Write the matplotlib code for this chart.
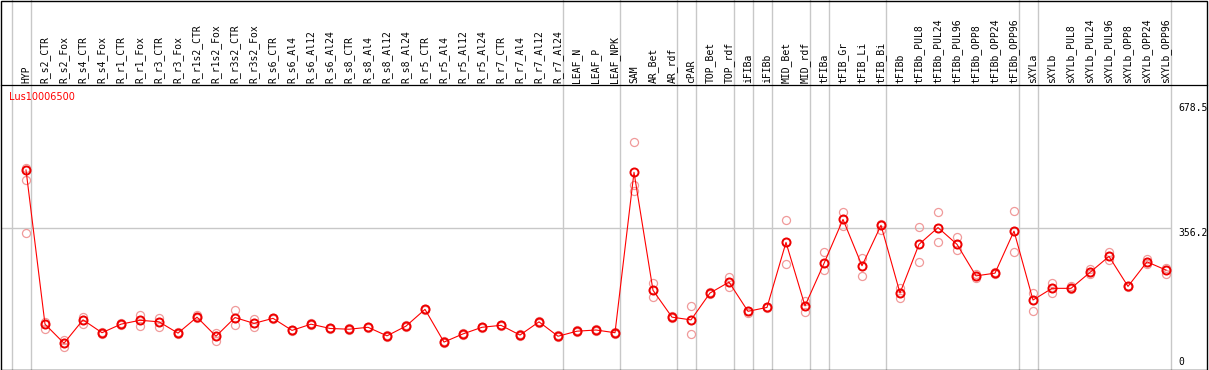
import numpy as np
import matplotlib
matplotlib.use("Agg")
import matplotlib.pyplot as plt
from matplotlib.patches import Rectangle


gene = "Lus10006500"

samples = ["HYP", "R_s2_CTR", "R_s2_Fox", "R_s4_CTR", "R_s4_Fox", "R_r1_CTR", "R_r1_Fox",
           "R_r3_CTR", "R_r3_Fox", "R_r1s2_CTR", "R_r1s2_Fox", "R_r3s2_CTR", "R_r3s2_Fox",
           "R_s6_CTR", "R_s6_Al4", "R_s6_Al12", "R_s6_Al24", "R_s8_CTR", "R_s8_Al4",
           "R_s8_Al12", "R_s8_Al24", "R_r5_CTR", "R_r5_Al4", "R_r5_Al12", "R_r5_Al24",
           "R_r7_CTR", "R_r7_Al4", "R_r7_Al12", "R_r7_Al24", "LEAF_N", "LEAF_P", "LEAF_NPK",
           "SAM", "AR_Bet", "AR_rdf", "cPAR", "TOP_Bet", "TOP_rdf", "iFIBa", "iFIBb",
           "MID_Bet", "MID_rdf", "tFIBa", "tFIB_Gr", "tFIB_Li", "tFIB_Bi", "tFIBb",
           "tFIBb_PUL8", "tFIBb_PUL24", "tFIBb_PUL96", "tFIBb_OPP8", "tFIBb_OPP24", "tFIBb_OPP96",
           "sXYLa", "sXYLb", "sXYLb_PUL8", "sXYLb_PUL24", "sXYLb_PUL96", "sXYLb_OPP8",
           "sXYLb_OPP24", "sXYLb_OPP96"]

mean_expr = [506, 110, 61, 121, 88, 110, 120, 116, 87, 128, 79, 127, 112, 125, 94, 110,
             99, 97, 102, 80, 105, 148, 64, 85, 102, 107, 82, 116, 79, 92, 95, 88,
             500, 197, 128, 121, 190, 218, 143, 153, 320, 157, 266, 379, 260, 364, 190,
             315, 358, 315, 234, 241, 349, 172, 202, 202, 243, 284, 207, 270, 249]

rep_a = [510, 116, 69, 128, 90, 112, 134, 126, 89, 133, 88, 146, 123, 127, 96, 112,
         101, 99, 104, 82, 107, 150, 66, 87, 104, 109, 84, 118, 81, 94, 97, 90,
         577, 216, 130, 157, 192, 232, 145, 155, 378, 170, 295, 397, 279, 366, 204,
         360, 397, 333, 239, 243, 401, 189, 215, 209, 252, 295, 209, 278, 255]
rep_b = [479, 110, 61, 121, 88, 110, 120, 116, 87, 128, 79, 127, 112, 125, 94, 110,
         99, 97, 102, 80, 105, 148, 64, 85, 102, 107, 82, 116, 79, 92, 95, 88,
         467, 197, 128, 121, 190, 218, 143, 153, 320, 157, 266, 379, 260, 364, 190,
         315, 358, 315, 234, 241, 349, 172, 202, 202, 243, 284, 207, 270, 249]
rep_c = [343, 98, 51, 110, 86, 108, 105, 104, 85, 125, 68, 108, 104, 123, 92, 108,
         97, 95, 100, 78, 103, 146, 62, 83, 100, 105, 80, 114, 77, 90, 93, 86,
         453, 179, 126, 84, 188, 206, 139, 151, 264, 140, 249, 362, 234, 352, 176,
         269, 320, 300, 229, 239, 295, 143, 191, 200, 240, 275, 205, 264, 239]

# last sample index of each group (plus the leading edge)
group_ends = [-1, 0, 28, 31, 34, 35, 37, 38, 39, 41, 42, 45, 52, 53, 60]

y_labels = [678.5, 356.2, 0]


def expression_plot():
    W, H = 1209, 370
    fig = plt.figure(figsize=(W / 100, H / 100), dpi=100)

    # plot area in pixels: x 1..1207, y 85..369
    ax = fig.add_axes([1 / W, 1 / H, 1206 / W, 284 / H])
    x = np.arange(len(samples))
    step = 19.0
    x0 = -25 / step
    ax.set_xlim(x0, x0 + 1206 / step)
    px = 0.3894
    ax.set_ylim(-2 / px, 282 / px)
    ax.set_xticks([])
    ax.set_yticks([])
    for s in ["left", "right", "bottom"]:
        ax.spines[s].set_visible(False)
    ax.spines["top"].set_linewidth(0.9)

    off = 4.5 / step
    top = 369 / 284
    for g in group_ends:
        ax.axvline(g + off, 0, top, color="#c8c8c8", lw=1.0, clip_on=False, zorder=0)
    ax.hlines(y_labels[1], x0, group_ends[-1] + off, color="#c8c8c8", lw=1.0, zorder=0)

    for rep in [rep_a, rep_b, rep_c]:
        ax.plot(x, rep, linestyle="none", marker="o", ms=5.8, mfc="none",
                mec="#f09a9a", mew=0.9, zorder=2)
    ax.plot(x, mean_expr, color="red", lw=0.8, zorder=3)
    ax.plot(x, mean_expr, linestyle="none", marker="o", ms=5.8, mfc="none",
            mec="#ee0000", mew=1.4, zorder=4)

    trans = ax.get_xaxis_transform()
    for i, name in enumerate(samples):
        ax.text(i, 1 + 2 / 284, name, transform=trans, rotation=90, ha="center",
                va="bottom", fontsize=7, family="DejaVu Sans Mono")

    ax.text(8.3 / 1206, 1 - 12 / 284, gene, transform=ax.transAxes, color="red",
            fontsize=7, va="center", ha="left")

    ytrans = ax.get_yaxis_transform()
    xl = 1177 / 1206
    ax.text(xl, y_labels[0], "678.5", transform=ytrans, va="top", ha="left",
            fontsize=7, family="DejaVu Sans Mono", clip_on=True)
    ax.text(xl, y_labels[1], "356.2", transform=ytrans, va="top", ha="left",
            fontsize=7, family="DejaVu Sans Mono", clip_on=True)
    ax.text(xl, y_labels[2], "0", transform=ytrans, va="bottom", ha="left",
            fontsize=7, family="DejaVu Sans Mono")

    fig.patches.append(Rectangle((0.5 / W, 0.5 / H), 1206.5 / W, 369 / H, transform=fig.transFigure,
                                 fill=False, ec="black", lw=1.0))
    fig.savefig("out.png", dpi=100, facecolor="white")


if __name__ == "__main__":
    expression_plot()
